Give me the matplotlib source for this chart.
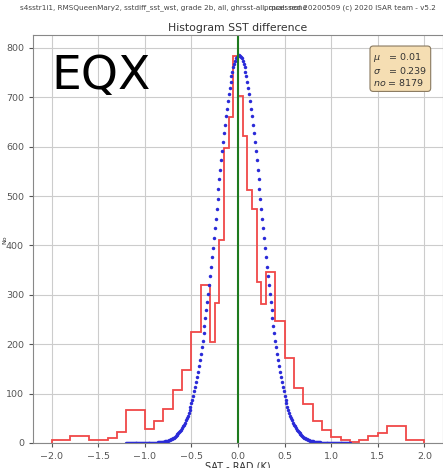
import numpy as np
import matplotlib
matplotlib.use('Agg')
import matplotlib.pyplot as plt

# histogram bins: 0.05 K wide, from -2.0 to 2.0
bin_edges = np.round(np.arange(-2.0, 2.0001, 0.05), 2)
counts = [
	7, 7, 7, 7, 15, 15, 15, 15, 7, 7,           # -2.0 .. -1.5
	7, 7, 11, 11, 22, 22, 66, 66, 66, 66,       # -1.5 .. -1.0
	28, 28, 44, 44, 69, 69, 107, 107, 148, 148, # -1.0 .. -0.5
	225, 225, 319, 319, 204, 284, 411, 598, 659, 784,  # -0.5 .. 0.0
	702, 621, 513, 473, 325, 281, 347, 347, 246, 246,  # 0.0 .. 0.5
	173, 173, 111, 111, 78, 78, 45, 45, 26, 26, # 0.5 .. 1.0
	12, 12, 6, 6, 3, 3, 7, 7, 14, 14,           # 1.0 .. 1.5
	21, 21, 34, 34, 34, 34, 7, 7, 7, 7,         # 1.5 .. 2.0
]

# fitted normal curve (values from the stats box, peak)
fit_mu = 0.01
fit_sigma = 0.239
fit_peak = 785
fit_range = (-1.2, 1.2)
n_obs = 8179

header_left = 's4sstr1i1, RMSQueenMary2, sstdiff_sst_wst, grade 2b, all, ghrsst-all, qual: none'
header_right = 'processed 20200509 (c) 2020 ISAR team - v5.2'


def main():
	fig = plt.figure(figsize=(4.43, 4.68), dpi=100)
	ax = fig.add_axes([33 / 443, 25 / 468, 1 - 33 / 443, (443 - 35) / 468])

	ax.grid(True, color='#cccccc', linewidth=0.8)
	ax.set_axisbelow(True)

	ax.stairs(counts, bin_edges, color='#f04848', linewidth=1.3, baseline=0)

	xs = np.round(np.arange(fit_range[0], fit_range[1] + 0.0001, 0.01), 2)
	ys = fit_peak * np.exp(-(xs - fit_mu) ** 2 / (2 * fit_sigma ** 2))
	ax.plot(xs, ys, linestyle='none', marker='o', markersize=2.5,
			color='#2a2ad8', markeredgewidth=0)

	ax.axvline(0.0, color='#1e7a1e', linewidth=1.5)

	ax.set_xlim(-2.2, 2.2)
	ax.set_ylim(0, 826)
	ax.set_xticks(np.arange(-2.0, 2.01, 0.5))
	ax.set_yticks(np.arange(0, 801, 100))
	ax.tick_params(labelsize=6.8, colors='#555555', length=3)
	for s in ax.spines.values():
		s.set_color('#888888')

	ax.set_xlabel('SAT - RAD (K)', fontsize=7, color='#333333', labelpad=0)
	fig.text(5 / 443, 1 - 240 / 468, 'No', fontsize=4.5, color='#333333',
			 rotation=90, ha='center', va='center')
	ax.set_title('Histogram SST difference', fontsize=7.8, color='#333333', pad=3)

	ax.text(0.045, 0.953, 'EQX', transform=ax.transAxes, fontsize=34,
			ha='left', va='top', color='black')

	stats = '$\\mu$   = %.2f\n$\\sigma$   = %.3f\n$no$ = %d' % (fit_mu, fit_sigma, n_obs)
	ax.text(0.83, 0.96, stats, transform=ax.transAxes, fontsize=6.8,
			ha='left', va='top', color='#333333', linespacing=1.1,
			bbox=dict(boxstyle='round,pad=0.35', facecolor='#f5deb3',
					  edgecolor='#8a7a60', linewidth=0.8))

	fig.text(20 / 443, 1 - 8 / 468, header_left, fontsize=5.2, color='#444444',
			 ha='left', va='center')
	fig.text(264 / 443, 1 - 8 / 468, header_right, fontsize=5.2, color='#444444',
			 ha='left', va='center')

	fig.savefig('out.png', dpi=100)


if __name__ == '__main__':
	main()
